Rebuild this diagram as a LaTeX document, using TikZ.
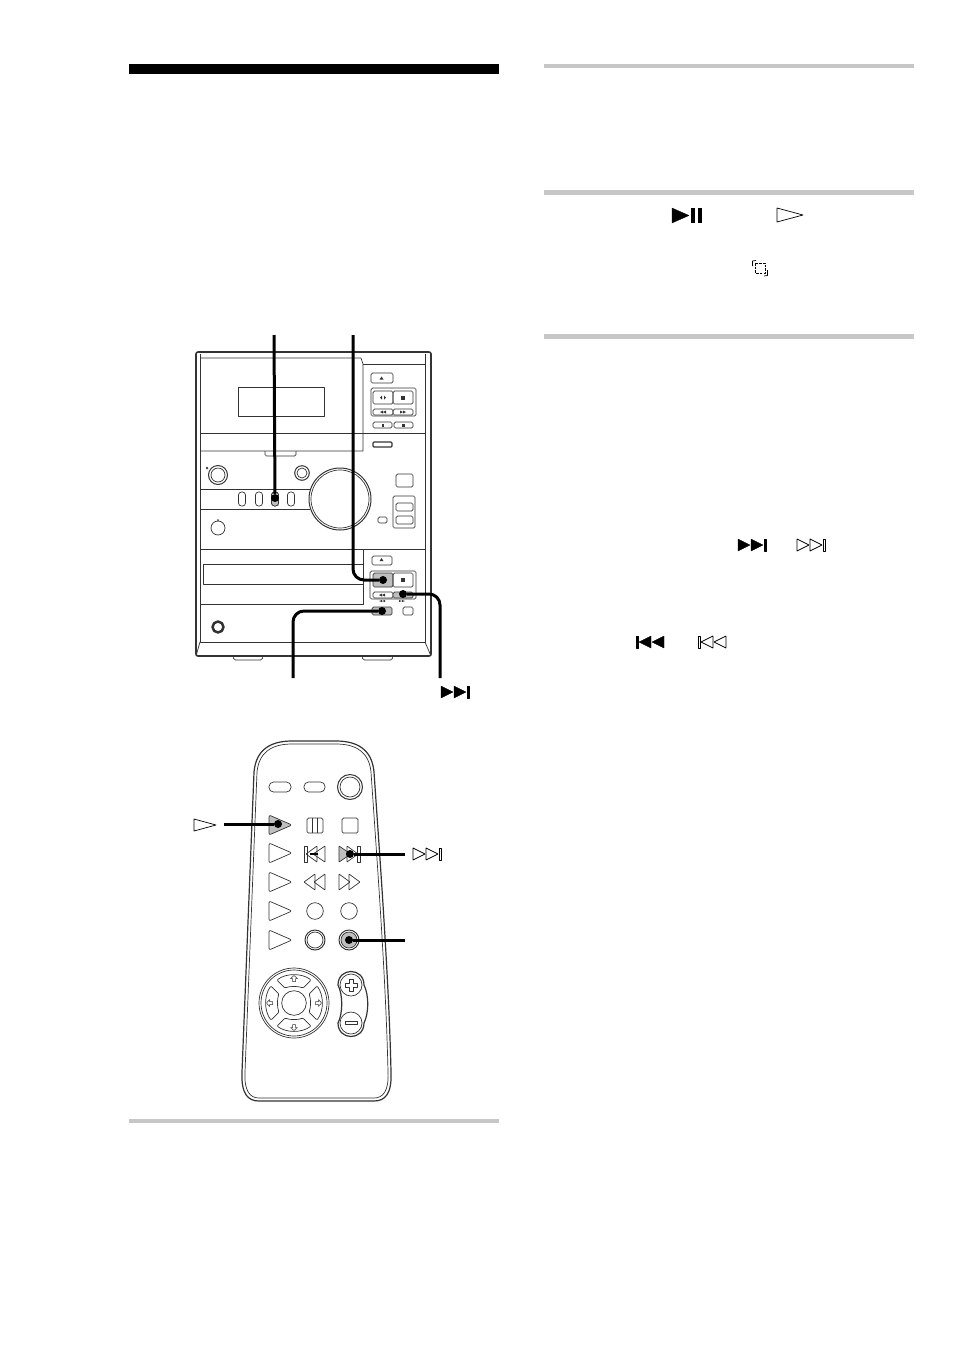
\documentclass[tikz,border=0pt]{standalone}
\definecolor{regla}{gray}{0.78}
\definecolor{tecla}{gray}{0.75}
\definecolor{trazo}{gray}{0.2}
\begin{document}
\begin{tikzpicture}[
  x=1pt, y=-1pt,     % coordenadas en pixeles de la pagina
  line join=round,
  draw=trazo
]
  \tikzstyle{lin}=[draw=trazo, line width=0.7pt];
  \tikzstyle{btn}=[lin, rounded corners=1.5pt];
  \tikzstyle{hit}=[btn, fill=tecla];
  \tikzstyle{ring}=[lin, fill=white];
  \tikzstyle{glyphfill}=[fill=black, draw=black, line width=0.3pt];
  \tikzstyle{glyphline}=[draw=black, line width=0.7pt];
  \tikzstyle{callout}=[draw=black, line width=3pt, rounded corners=11pt];
  \tikzstyle{dot}=[circle, fill=black, inner sep=0pt, minimum size=8pt];
  \useasboundingbox (0,0) rectangle (954,1352);
  %
  % reglas de seccion
  \fill[black] (129,64) rectangle (499,74);
  \fill[regla] (544,64) rectangle (914,68);
  \fill[regla] (544,190) rectangle (914,195);
  \fill[regla] (544,334) rectangle (914,339);
  \fill[regla] (129,1119) rectangle (499,1123);
  %
  % cuerpo del equipo
  \draw[lin, line width=1.6pt, rounded corners=2pt] (196,352) rectangle (431,656);
  \draw[lin] (200,354) -- (200,642) -- (425,642) -- (425,354);
  \draw[lin] (196,656) -- (200,642) (431,656) -- (425,642);
  \draw[lin, rounded corners=1.5pt] (233,656) -- (234,660) -- (262,660) -- (263,656);
  \draw[lin, rounded corners=1.5pt] (362,656) -- (363,660) -- (392,660) -- (393,656);
  %
  % platina de casete
  \draw[lin] (200,358) -- (361,358) -- (363,364) -- (363,451) -- (201,451);
  \draw[lin] (363,364) -- (425,364);
  \draw[lin] (200,433) -- (425,433);
  \draw[btn] (265,451) -- (265,456) -- (296,456) -- (296,451);
  \draw[lin] (238,387) rectangle (324,416);
  %
  % teclas de la platina
  \draw[btn] (371,373) rectangle (393,383);
  \draw[btn] (371,388) rectangle (416,416);
  \draw[btn] (373,391) rectangle (393,404);
  \draw[btn] (393,391) rectangle (413,404);
  \draw[btn] (373,409) rectangle (393,415);
  \draw[btn] (393,409) rectangle (413,415);
  \draw[btn] (373,422) rectangle (392,428);
  \draw[btn] (394,422) rectangle (413,428);
  \draw[lin, line width=1.2pt, rounded corners=1pt] (373,442) rectangle (392,447);
  \fill[trazo] (381.5,376.5) -- (383.5,379.5) -- (379.5,379.5) -- cycle;
  \fill[trazo] (401,395.5) rectangle (405,399.5);
  \fill[trazo] (382,395.5) -- (380,397.5) -- (382,399.5) -- cycle;
  \fill[trazo] (384,395.5) -- (386,397.5) -- (384,399.5) -- cycle;
  \fill[trazo] (382,423.5) rectangle (384,426.5);
  \fill[trazo] (402,423.5) rectangle (405,426.5);
  \foreach \x in {381,384} {
    \fill[trazo] (\x+2,410.5) -- (\x-1,412) -- (\x+2,413.5) -- cycle;
  }
  \foreach \x in {401,404} {
    \fill[trazo] (\x-1,410.5) -- (\x+2,412) -- (\x-1,413.5) -- cycle;
  }
  %
  % banda central
  \draw[lin] (200,489) -- (310,489);
  \draw[lin] (200,509) -- (310,509);
  \foreach \x in {242,259,275,291} {
    \draw[lin, rounded corners=3pt] (\x-3.5,492) rectangle (\x+3.5,506);
  }
  \fill[tecla] (272,499) rectangle (279,506);
  \draw[lin, rounded corners=3pt] (271.5,492) rectangle (278.5,506);
  %
  % mandos
  \draw[lin, line width=1pt] (218,475) circle (9.5);
  \draw[lin] (218,475) circle (7);
  \draw[lin] (207,468) circle (1);
  \draw[lin, line width=1pt] (302,473) circle (7.3);
  \draw[lin] (302,473) circle (5);
  \draw[ring, line width=1pt] (340,499) circle (31);
  \draw[lin] (340,499) circle (29);
  \draw[lin] (218,528) circle (7);
  \fill[trazo] (218,520) circle (1);
  \draw[btn] (396,474) rectangle (413,487);
  \draw[btn] (393,496) rectangle (415,528);
  \draw[btn] (396,503) rectangle (413,511);
  \draw[btn] (396,516) rectangle (413,524);
  \draw[btn] (378,517) rectangle (387,523);
  %
  % lector de CD
  \draw[lin] (200,549) -- (425,549);
  \draw[lin] (363,549) -- (363,604) -- (200,604);
  \draw[lin] (203,564) rectangle (363,584);
  \draw[btn] (372,556) rectangle (392,565);
  \fill[trazo] (381.5,558) -- (383.5,561) -- (379.5,561) -- cycle;
  \draw[btn] (370,571) rectangle (416,599);
  \draw[hit] (373,573) rectangle (393,587);
  \draw[btn] (393,573) rectangle (413,587);
  \fill[trazo] (401,578) rectangle (405,582);
  \draw[btn] (373,592) rectangle (393,598);
  \draw[hit] (393,592) rectangle (413,598);
  \draw[hit] (372,607) rectangle (392,615);
  \draw[btn] (403,607) rectangle (413,615);
  \foreach \x in {380,383} {
    \fill[trazo] (\x+2,593.5) -- (\x-1,595) -- (\x+2,596.5) -- cycle;
    \fill[trazo] (\x+2,600) -- (\x-1,601) -- (\x+2,602) -- cycle;
  }
  \foreach \x in {400,403} {
    \fill[trazo] (\x-1,600) -- (\x+2,601) -- (\x-1,602) -- cycle;
  }
  \draw[trazo, line width=2.5pt] (218,627) circle (5.5);
  %
  % llamadas del equipo
  \node [dot] (disp) at (275,498) {};
  \node [dot] (play) at (383,580) {};
  \node [dot] (next) at (403,594) {};
  \node [dot] (stop) at (382,611) {};
  \coordinate (dispA) at (274,335);
  \coordinate (playA) at (353,335);
  \coordinate (nextA) at (440,678);
  \coordinate (stopA) at (293,678);
  \draw[callout] (dispA) -- (disp);
  \draw[callout] (playA) |- (play);
  \draw[callout] (nextA) |- (next);
  \draw[callout] (stopA) |- (stop);
  %
  % simbolos de salto: relleno y hueco, a derecha e izquierda
  \foreach \px/\py/\sx/\st in {738/539/1/glyphfill, 441/686/1/glyphfill, 664/636/-1/glyphfill,
    797/539/1/glyphline, 413/848/1/glyphline, 726/636/-1/glyphline} {
    \begin{scope}[shift={(\px,\py)}, xscale=\sx]
      \draw[\st] (0,0) -- (12,6) -- (0,12) -- cycle;
      \draw[\st] (13,0) -- (25,6) -- (13,12) -- cycle;
      \draw[\st] (26,0) rectangle (28,12);
    \end{scope}
  }
  %
  % otros simbolos del texto
  \draw[glyphfill] (672,208) -- (689,215.5) -- (672,223) -- cycle;
  \fill[black] (691,208) rectangle (695,223);
  \fill[black] (698,208) rectangle (702,223);
  \draw[glyphline] (777,208) -- (803,215) -- (777,222) -- cycle;
  \draw[glyphline] (194,819) -- (216,825) -- (194,831) -- cycle;
  \draw[draw=black, line width=0.7pt, dash pattern=on 2.5pt off 1.2pt] (755,263) rectangle (765,273);
  \draw[draw=black, line width=0.7pt] (752.5,266) -- (752.5,261) -- (756,260.5);
  \draw[draw=black, line width=0.7pt] (767.5,270) -- (767.5,275.5) -- (764,276);
  %
  % mando a distancia
  \draw[lin, line width=1.2pt] (254,772) .. controls (256,750) and (270,741) .. (292,741) -- (336,741)
    .. controls (358,741) and (372,750) .. (374,772) .. controls (380,860) and (389,980) .. (391,1072)
    .. controls (392,1094) and (385,1101) .. (374,1101) -- (259,1101)
    .. controls (248,1101) and (241,1094) .. (242,1072) -- cycle;
  \draw[lin] (257,772) .. controls (259,752) and (272,744) .. (292,744) -- (336,744)
    .. controls (356,744) and (369,752) .. (371,772) .. controls (377,860) and (386,980) .. (388,1072)
    .. controls (389,1091) and (383,1098) .. (374,1098) -- (259,1098)
    .. controls (250,1098) and (244,1091) .. (245,1072) -- cycle;
  %
  % fila superior
  \draw[lin, rounded corners=4.5pt] (269,782) rectangle (291,792);
  \draw[lin, rounded corners=4.5pt] (304,782) rectangle (325,792);
  \draw[lin, line width=1pt] (350,787) circle (12.5);
  \draw[lin] (350,787) circle (10);
  %
  % triangulos de la primera columna
  \foreach \y/\st in {825/hit, 853/lin, 882/lin, 911/lin, 940/lin} {
    \draw[\st, rounded corners=2pt] (269,\y-10) -- (292,\y) -- (269,\y+10) -- cycle;
  }
  %
  % pausa y parada
  \draw[btn] (307,818) rectangle (323,833);
  \draw[lin] (312,818) -- (312,833) (317.5,818) -- (317.5,833);
  \draw[btn] (342,818) rectangle (358,833);
  %
  % saltos y busquedas
  \begin{scope}[shift={(339,846)}]
    \draw[hit, rounded corners=0.5pt] (0,0) -- (12,8) -- (0,16) -- cycle;
    \draw[lin, rounded corners=0.5pt] (8,0) -- (19,8) -- (8,16) -- cycle;
    \draw[lin] (18,0) rectangle (21,16);
  \end{scope}
  \begin{scope}[shift={(325,846)}, xscale=-1]
    \draw[lin, rounded corners=0.5pt] (0,0) -- (12,8) -- (0,16) -- cycle;
    \draw[lin, rounded corners=0.5pt] (8,0) -- (19,8) -- (8,16) -- cycle;
    \draw[lin] (18,0) rectangle (21,16);
  \end{scope}
  \fill[black] (310,853) rectangle (318,855);
  \begin{scope}[shift={(339,874)}]
    \draw[lin, rounded corners=0.5pt] (0,0) -- (11,8) -- (0,16) -- cycle;
    \draw[lin, rounded corners=0.5pt] (10,0) -- (21,8) -- (10,16) -- cycle;
  \end{scope}
  \begin{scope}[shift={(325,874)}, xscale=-1]
    \draw[lin, rounded corners=0.5pt] (0,0) -- (11,8) -- (0,16) -- cycle;
    \draw[lin, rounded corners=0.5pt] (10,0) -- (21,8) -- (10,16) -- cycle;
  \end{scope}
  %
  % teclas redondas
  \draw[lin] (315,911) circle (8.3);
  \draw[lin] (349,911) circle (8.3);
  \draw[lin, line width=1pt] (315,940) circle (10);
  \draw[lin] (315,940) circle (8);
  \draw[lin, line width=1pt, fill=white] (349,940) circle (10);
  \draw[lin, fill=tecla] (349,940) circle (8);
  %
  % cruceta
  \draw[lin] (294,1003) circle (35);
  \draw[lin] (294,1003) circle (33);
  \draw[lin] (294,1003) circle (12.3);
  \foreach \a in {0,90,180,270} {
    \begin{scope}[shift={(294,1003)}, rotate=\a]
      \draw[lin, rounded corners=1pt] (-17,-23) .. controls (-8,-30) and (8,-30) .. (17,-23)
        -- (9,-15) .. controls (4,-17) and (-4,-17) .. (-9,-15) -- cycle;
      \draw[lin, line width=0.5pt] (0,-27.5) -- (3.5,-24.5) -- (1.5,-24.5) -- (1.5,-21.5) -- (-1.5,-21.5)
        -- (-1.5,-24.5) -- (-3.5,-24.5) -- cycle;
    \end{scope}
  }
  %
  % volumen
  \draw[lin, line width=1.2pt] (338,985) .. controls (338,967) and (364,967) .. (364,985)
    .. controls (369,995) and (369,1013) .. (364,1023)
    .. controls (364,1041) and (338,1041) .. (338,1023)
    .. controls (343,1013) and (343,995) .. (338,985) -- cycle;
  \draw[lin] (351,985) circle (11);
  \draw[lin] (351,1023) circle (11);
  \draw[lin] (349,979) -- (353,979) -- (353,983) -- (357,983) -- (357,987) -- (353,987)
    -- (353,991) -- (349,991) -- (349,987) -- (345,987) -- (345,983) -- (349,983) -- cycle;
  \draw[lin] (345,1021.5) rectangle (357,1024.5);
  %
  % llamadas del mando
  \node [dot] (rplay) at (278,824) {};
  \node [dot] (rnext) at (350,854) {};
  \node [dot] (renter) at (349,940) {};
  \coordinate (rplayA) at (224,824);
  \coordinate (rnextA) at (405,854);
  \coordinate (renterA) at (405,940);
  \draw[callout] (rplayA) -- (rplay);
  \draw[callout] (rnextA) -- (rnext);
  \draw[callout] (renterA) -- (renter);
\end{tikzpicture}
\end{document}
